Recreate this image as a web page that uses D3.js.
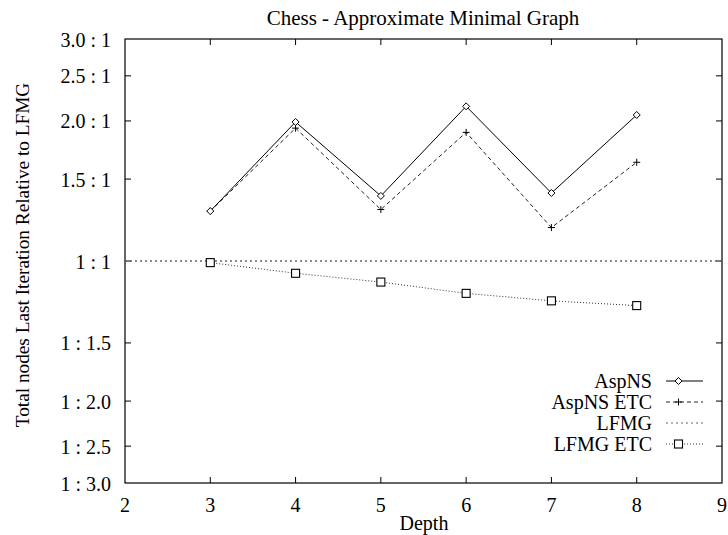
<!DOCTYPE html>
<html>
<head>
<meta charset="utf-8">
<script src="https://cdn.jsdelivr.net/npm/d3@7"></script>
<style>
  html, body { margin: 0; padding: 0; background: #fff; }
  svg { display: block; }
  text { font-family: "Liberation Serif", "Times New Roman", serif; fill: #000; }
</style>
</head>
<body>
<svg id="chart" width="728" height="535"></svg>
<script>
// Search depth on the x axis
const depths = [3, 4, 5, 6, 7, 8];

// Node-count ratios relative to LFMG (1 = equal)
const aspNS    = [1.28, 1.99, 1.38, 2.15, 1.40, 2.06];
const aspNSETC = [1.28, 1.93, 1.29, 1.89, 1.18, 1.63];
const lfmg     = [1, 1];
const lfmgETC  = [0.992, 0.941, 0.901, 0.852, 0.821, 0.802];

const xTicks = [2, 3, 4, 5, 6, 7, 8, 9];
const yTicks = [1/3, 1/2.5, 1/2, 1/1.5, 1, 1.5, 2, 2.5, 3];
const yTickLabels = ["1 : 3.0", "1 : 2.5", "1 : 2.0", "1 : 1.5", "1 : 1", "1.5 : 1", "2.0 : 1", "2.5 : 1", "3.0 : 1"];
const seriesNames = ["AspNS", "AspNS ETC", "LFMG", "LFMG ETC"];

const svg = d3.select("#chart");
const m = { left: 125, right: 722, top: 39, bottom: 483 };

const x = d3.scaleLinear().domain([2, 9]).range([m.left, m.right]);
const y = d3.scaleLog().domain([1/3, 3]).range([m.bottom, m.top]);

const fontSize = 20;

// Frame
svg.append("rect")
  .attr("x", m.left).attr("y", m.top)
  .attr("width", m.right - m.left).attr("height", m.bottom - m.top)
  .attr("fill", "none").attr("stroke", "#000").attr("stroke-width", 1.2);

// Mirrored ticks on all four sides
const tickLen = 6;
const g = svg.append("g").attr("stroke", "#000").attr("stroke-width", 1);
xTicks.slice(1, -1).forEach(t => {
  g.append("line").attr("x1", x(t)).attr("x2", x(t)).attr("y1", m.bottom).attr("y2", m.bottom - tickLen);
  g.append("line").attr("x1", x(t)).attr("x2", x(t)).attr("y1", m.top).attr("y2", m.top + tickLen);
});
yTicks.slice(1, -1).forEach(t => {
  g.append("line").attr("x1", m.left).attr("x2", m.left + tickLen).attr("y1", y(t)).attr("y2", y(t));
  g.append("line").attr("x1", m.right).attr("x2", m.right - tickLen).attr("y1", y(t)).attr("y2", y(t));
});

// Tick labels
svg.append("g").selectAll("text").data(xTicks).join("text")
  .attr("x", d => x(d)).attr("y", m.bottom + 29)
  .attr("text-anchor", "middle").attr("font-size", fontSize)
  .text(d => d);

svg.append("g").selectAll("text").data(yTicks).join("text")
  .attr("x", m.left - 14).attr("y", d => y(d) + 7.5)
  .attr("text-anchor", "end").attr("font-size", fontSize)
  .text((d, i) => yTickLabels[i]);

// Titles
svg.append("text").attr("x", 423).attr("y", 25)
  .attr("text-anchor", "middle").attr("font-size", 21)
  .text("Chess - Approximate Minimal Graph");
svg.append("text").attr("x", 424).attr("y", 530)
  .attr("text-anchor", "middle").attr("font-size", fontSize)
  .text("Depth");
svg.append("text")
  .attr("transform", `translate(28.5, 255) rotate(-90)`)
  .attr("text-anchor", "middle").attr("font-size", 19.3)
  .text("Total nodes Last Iteration Relative to LFMG");

// Series
const line = d3.line().x(d => x(d[0])).y(d => y(d[1]));
const zip = (xs, ys) => xs.map((d, i) => [d, ys[i]]);

const plot = svg.append("g");

// LFMG reference line spans the whole plot
plot.append("path")
  .attr("d", line(zip([2, 9], lfmg)))
  .attr("fill", "none").attr("stroke", "#666").attr("stroke-width", 1.3)
  .attr("stroke-dasharray", "2,3");

plot.append("path")
  .attr("d", line(zip(depths, lfmgETC)))
  .attr("fill", "none").attr("stroke", "#333").attr("stroke-width", 1)
  .attr("stroke-dasharray", "1,2");

plot.append("path")
  .attr("d", line(zip(depths, aspNSETC)))
  .attr("fill", "none").attr("stroke", "#222").attr("stroke-width", 1)
  .attr("stroke-dasharray", "4,3");

plot.append("path")
  .attr("d", line(zip(depths, aspNS)))
  .attr("fill", "none").attr("stroke", "#000").attr("stroke-width", 1);

// Markers
function diamond(sel, cx, cy) {
  sel.append("path")
    .attr("d", `M${cx},${cy - 3.5}L${cx + 3.5},${cy}L${cx},${cy + 3.5}L${cx - 3.5},${cy}Z`)
    .attr("fill", "#fff").attr("stroke", "#000").attr("stroke-width", 1);
}
function plus(sel, cx, cy) {
  sel.append("path")
    .attr("d", `M${cx - 3.5},${cy}H${cx + 3.5}M${cx},${cy - 3.5}V${cy + 3.5}`)
    .attr("stroke", "#000").attr("stroke-width", 1);
}
function square(sel, cx, cy) {
  sel.append("rect")
    .attr("x", cx - 4).attr("y", cy - 4).attr("width", 8).attr("height", 8)
    .attr("fill", "#fff").attr("stroke", "#000").attr("stroke-width", 1.1);
}

zip(depths, aspNSETC).forEach(d => plus(plot, x(d[0]), y(d[1])));
zip(depths, aspNS).forEach(d => diamond(plot, x(d[0]), y(d[1])));
zip(depths, lfmgETC).forEach(d => square(plot, x(d[0]), y(d[1])));

// Legend
const legend = svg.append("g");
const legY0 = 381, legDy = 21, textX = 652, l1 = 666, l2 = 703;
const styles = [
  { dash: null, color: "#000", mark: diamond },
  { dash: "4,3", color: "#222", mark: plus },
  { dash: "2,3", color: "#666", mark: null },
  { dash: "1,2", color: "#333", mark: square }
];
seriesNames.forEach((name, i) => {
  const yy = legY0 + i * legDy;
  legend.append("text").attr("x", textX).attr("y", yy + 7)
    .attr("text-anchor", "end").attr("font-size", fontSize).text(name);
  legend.append("line").attr("x1", l1).attr("x2", l2).attr("y1", yy).attr("y2", yy)
    .attr("stroke", styles[i].color).attr("stroke-width", 1)
    .attr("stroke-dasharray", styles[i].dash);
  if (styles[i].mark) styles[i].mark(legend, 678.5, yy);
});
</script>
</body>
</html>
